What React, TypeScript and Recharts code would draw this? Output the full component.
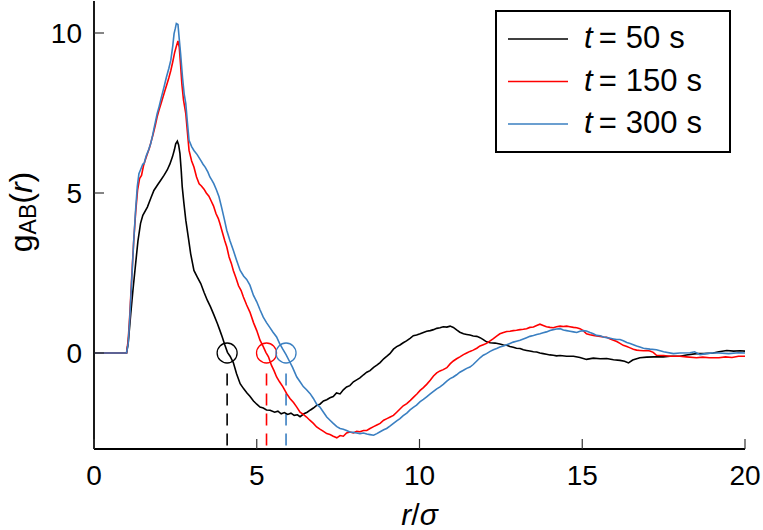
import React from 'react';
import { LineChart, Line, XAxis, YAxis, ReferenceLine, ReferenceDot, Legend } from 'recharts';

const xTicks = [0, 5, 10, 15, 20];
const yTicks = [0, 5, 10];

const series50: [number, number][] = [
  [0, 0], [0.5, 0], [1.0, 0], [1.05, 0.3], [1.13, 1.24], [1.2, 2.0], [1.28, 2.8], [1.35, 3.5], [1.43, 4.05], [1.5, 4.3],
  [1.64, 4.56], [1.75, 4.85], [1.84, 5.08], [1.95, 5.25], [2.05, 5.4], [2.15, 5.55], [2.25, 5.72], [2.33, 5.9], [2.41, 6.13],
  [2.47, 6.35], [2.51, 6.54], [2.56, 6.62], [2.6, 6.5], [2.64, 6.24], [2.68, 5.7], [2.71, 5.2], [2.76, 4.7], [2.82, 4.15],
  [2.9, 3.6], [2.97, 3.1], [3.07, 2.58], [3.17, 2.38], [3.28, 2.17], [3.38, 1.9], [3.48, 1.65], [3.58, 1.44], [3.68, 1.2],
  [3.79, 0.92], [3.87, 0.7], [3.94, 0.5], [4.02, 0.25], [4.1, 0.02], [4.18, -0.1], [4.28, -0.3], [4.38, -0.65], [4.49, -0.96],
  [4.6, -1.12], [4.7, -1.25], [4.79, -1.35], [4.9, -1.5], [5.0, -1.6], [5.1, -1.69], [5.2, -1.72], [5.3, -1.78], [5.41, -1.79],
  [5.55, -1.85], [5.65, -1.82], [5.75, -1.9], [5.85, -1.86], [5.95, -1.92], [6.05, -1.88], [6.15, -1.95], [6.25, -1.93],
  [6.33, -1.99], [6.45, -1.9], [6.55, -1.85], [6.65, -1.78], [6.74, -1.72], [6.84, -1.64], [6.94, -1.6], [7.05, -1.5],
  [7.15, -1.46], [7.25, -1.4], [7.35, -1.36], [7.45, -1.25], [7.56, -1.28], [7.66, -1.15], [7.76, -1.06], [7.86, -1.02],
  [7.97, -0.9], [8.07, -0.84], [8.17, -0.78], [8.28, -0.68], [8.38, -0.6], [8.48, -0.55], [8.59, -0.45], [8.69, -0.38],
  [8.79, -0.3], [8.9, -0.18], [9.0, -0.1], [9.09, -0.02], [9.2, 0.12], [9.3, 0.2], [9.4, 0.25], [9.5, 0.32], [9.6, 0.38],
  [9.71, 0.46], [9.81, 0.54], [9.91, 0.56], [10.02, 0.6], [10.12, 0.64], [10.22, 0.68], [10.33, 0.7], [10.43, 0.73],
  [10.53, 0.77], [10.63, 0.79], [10.73, 0.82], [10.84, 0.81], [10.94, 0.84], [11.04, 0.8], [11.14, 0.72], [11.24, 0.65],
  [11.35, 0.6], [11.45, 0.58], [11.55, 0.56], [11.65, 0.53], [11.76, 0.52], [11.86, 0.48], [11.96, 0.42], [12.06, 0.35],
  [12.17, 0.32], [12.32, 0.31], [12.47, 0.28], [12.58, 0.25], [12.68, 0.24], [12.78, 0.2], [12.88, 0.18], [12.98, 0.15],
  [13.09, 0.14], [13.19, 0.1], [13.29, 0.08], [13.39, 0.06], [13.5, 0.04], [13.6, 0.03], [13.7, 0.0], [13.8, -0.02],
  [13.9, -0.04], [14.01, -0.06], [14.11, -0.07], [14.21, -0.09], [14.32, -0.08], [14.52, -0.1], [14.73, -0.1], [14.93, -0.14],
  [15.13, -0.2], [15.34, -0.16], [15.55, -0.18], [15.75, -0.17], [15.96, -0.21], [16.16, -0.23], [16.3, -0.26], [16.42, -0.31],
  [16.55, -0.22], [16.77, -0.15], [16.98, -0.13], [17.2, -0.12], [17.49, -0.12], [17.7, -0.1], [18.0, -0.1], [18.2, -0.06],
  [18.51, -0.02], [18.73, -0.02], [19.02, 0.0], [19.2, 0.04], [19.44, 0.08], [19.65, 0.06], [19.85, 0.07], [20, 0.06],
];

const series150: [number, number][] = [
  [0, 0], [0.5, 0], [1.0, 0], [1.05, 0.4], [1.1, 1.2], [1.16, 2.4], [1.22, 3.5], [1.28, 4.4], [1.34, 5.1], [1.4, 5.45],
  [1.46, 5.55], [1.52, 5.85], [1.58, 6.05], [1.64, 6.23], [1.7, 6.4], [1.76, 6.62], [1.82, 6.85], [1.88, 7.1], [1.94, 7.38],
  [2.0, 7.6], [2.06, 7.8], [2.12, 8.0], [2.18, 8.2], [2.24, 8.4], [2.3, 8.6], [2.36, 8.83], [2.42, 9.1], [2.48, 9.4],
  [2.54, 9.62], [2.58, 9.75], [2.62, 9.55], [2.66, 9.0], [2.7, 8.4], [2.75, 7.9], [2.82, 7.48], [2.87, 6.9], [2.92, 6.33],
  [3.0, 6.0], [3.07, 5.81], [3.15, 5.5], [3.23, 5.29], [3.3, 5.22], [3.38, 5.12], [3.45, 5.0], [3.53, 4.9], [3.6, 4.75],
  [3.67, 4.6], [3.75, 4.35], [3.82, 4.2], [3.87, 4.04], [3.95, 3.75], [4.02, 3.5], [4.08, 3.31], [4.15, 3.0], [4.22, 2.8],
  [4.28, 2.58], [4.36, 2.35], [4.44, 2.1], [4.52, 1.95], [4.59, 1.75], [4.69, 1.5], [4.79, 1.28], [4.9, 0.95], [5.0, 0.7],
  [5.1, 0.4], [5.2, 0.2], [5.28, 0.02], [5.36, -0.12], [5.45, -0.38], [5.53, -0.55], [5.61, -0.75], [5.7, -0.9], [5.8, -1.05],
  [5.92, -1.27], [6.02, -1.42], [6.13, -1.55], [6.23, -1.69], [6.33, -1.85], [6.43, -1.92], [6.53, -2.0], [6.63, -2.1],
  [6.74, -2.2], [6.84, -2.31], [6.94, -2.38], [7.05, -2.45], [7.15, -2.52], [7.25, -2.55], [7.35, -2.6], [7.46, -2.65],
  [7.56, -2.58], [7.66, -2.6], [7.76, -2.5], [7.86, -2.47], [7.97, -2.5], [8.07, -2.45], [8.17, -2.46], [8.28, -2.42],
  [8.38, -2.42], [8.48, -2.36], [8.59, -2.3], [8.69, -2.25], [8.79, -2.2], [8.9, -2.1], [9.0, -2.05], [9.1, -2.0],
  [9.2, -1.95], [9.3, -1.85], [9.4, -1.75], [9.5, -1.65], [9.61, -1.58], [9.72, -1.48], [9.82, -1.38], [9.92, -1.28],
  [10.02, -1.17], [10.12, -1.08], [10.22, -0.98], [10.33, -0.85], [10.43, -0.72], [10.53, -0.62], [10.63, -0.56],
  [10.73, -0.52], [10.84, -0.46], [10.94, -0.34], [11.04, -0.25], [11.14, -0.18], [11.24, -0.12], [11.35, -0.05],
  [11.45, 0.0], [11.55, 0.05], [11.65, 0.09], [11.76, 0.15], [11.86, 0.22], [11.96, 0.26], [12.06, 0.3], [12.17, 0.38],
  [12.27, 0.45], [12.37, 0.53], [12.47, 0.6], [12.58, 0.64], [12.68, 0.67], [12.78, 0.68], [12.88, 0.7], [12.98, 0.71],
  [13.09, 0.73], [13.19, 0.74], [13.29, 0.76], [13.39, 0.8], [13.5, 0.81], [13.6, 0.86], [13.7, 0.9], [13.8, 0.86],
  [13.9, 0.82], [14.01, 0.8], [14.11, 0.79], [14.21, 0.82], [14.32, 0.84], [14.42, 0.83], [14.52, 0.84], [14.62, 0.82],
  [14.73, 0.8], [14.83, 0.79], [14.93, 0.76], [15.03, 0.7], [15.13, 0.6], [15.24, 0.57], [15.34, 0.55], [15.44, 0.53],
  [15.55, 0.52], [15.65, 0.5], [15.75, 0.49], [15.86, 0.44], [15.96, 0.4], [16.06, 0.36], [16.16, 0.3], [16.26, 0.24],
  [16.37, 0.2], [16.47, 0.16], [16.57, 0.12], [16.67, 0.09], [16.77, 0.08], [16.88, 0.07], [16.98, 0.08], [17.08, 0.06],
  [17.18, 0.02], [17.28, -0.07], [17.5, -0.08], [17.7, -0.1], [18.0, -0.1], [18.2, -0.12], [18.51, -0.15], [18.7, -0.13],
  [18.9, -0.15], [19.2, -0.15], [19.4, -0.12], [19.6, -0.14], [19.8, -0.1], [20, -0.1],
];

const series300: [number, number][] = [
  [0, 0], [0.5, 0], [1.0, 0], [1.05, 0.3], [1.1, 1.1], [1.16, 2.3], [1.22, 3.5], [1.28, 4.5], [1.33, 5.2], [1.38, 5.6],
  [1.44, 5.75], [1.5, 5.9], [1.54, 5.92], [1.6, 6.15], [1.66, 6.3], [1.74, 6.54], [1.8, 6.8], [1.86, 7.1], [1.94, 7.48],
  [2.0, 7.7], [2.06, 7.95], [2.15, 8.31], [2.22, 8.6], [2.3, 8.9], [2.36, 9.15], [2.42, 9.6], [2.46, 9.98], [2.5, 10.15],
  [2.53, 10.3], [2.58, 10.27], [2.62, 9.8], [2.66, 9.36], [2.72, 8.6], [2.77, 8.1], [2.82, 7.79], [2.87, 7.2], [2.92, 6.65],
  [3.0, 6.45], [3.07, 6.33], [3.17, 6.2], [3.28, 6.02], [3.35, 5.9], [3.42, 5.8], [3.5, 5.65], [3.56, 5.5], [3.62, 5.4],
  [3.68, 5.29], [3.76, 5.1], [3.84, 4.88], [3.92, 4.55], [4.0, 4.2], [4.08, 3.83], [4.18, 3.5], [4.28, 3.21], [4.38, 2.9],
  [4.49, 2.58], [4.6, 2.4], [4.69, 2.3], [4.79, 2.12], [4.9, 1.8], [5.0, 1.6], [5.1, 1.35], [5.2, 1.12], [5.3, 0.95],
  [5.4, 0.8], [5.5, 0.65], [5.61, 0.5], [5.7, 0.3], [5.8, 0.12], [5.9, -0.05], [6.0, -0.25], [6.1, -0.45], [6.23, -0.75],
  [6.33, -0.9], [6.43, -1.05], [6.53, -1.15], [6.64, -1.27], [6.74, -1.42], [6.84, -1.6], [6.94, -1.69], [7.05, -1.85],
  [7.15, -2.0], [7.25, -2.1], [7.35, -2.2], [7.46, -2.3], [7.56, -2.36], [7.66, -2.38], [7.76, -2.42], [7.86, -2.47],
  [7.97, -2.48], [8.07, -2.5], [8.17, -2.52], [8.28, -2.5], [8.38, -2.53], [8.48, -2.55], [8.59, -2.57], [8.69, -2.52],
  [8.79, -2.46], [8.9, -2.4], [8.99, -2.36], [9.1, -2.28], [9.2, -2.2], [9.3, -2.12], [9.4, -2.05], [9.5, -1.96],
  [9.61, -1.88], [9.71, -1.78], [9.81, -1.7], [9.91, -1.63], [10.02, -1.52], [10.12, -1.45], [10.22, -1.37], [10.33, -1.28],
  [10.43, -1.2], [10.53, -1.12], [10.63, -1.06], [10.73, -0.98], [10.84, -0.88], [10.94, -0.8], [11.04, -0.75],
  [11.14, -0.68], [11.24, -0.6], [11.35, -0.54], [11.45, -0.48], [11.55, -0.44], [11.65, -0.36], [11.76, -0.25],
  [11.86, -0.15], [11.96, -0.07], [12.06, -0.02], [12.17, 0.05], [12.27, 0.1], [12.37, 0.14], [12.47, 0.19], [12.58, 0.22],
  [12.68, 0.26], [12.78, 0.3], [12.88, 0.34], [12.98, 0.37], [13.09, 0.4], [13.19, 0.44], [13.29, 0.48], [13.39, 0.52],
  [13.5, 0.55], [13.6, 0.58], [13.7, 0.6], [13.8, 0.63], [13.9, 0.66], [14.01, 0.7], [14.11, 0.73], [14.21, 0.75],
  [14.32, 0.76], [14.42, 0.72], [14.52, 0.7], [14.62, 0.68], [14.73, 0.66], [14.83, 0.64], [14.93, 0.68], [15.03, 0.7],
  [15.13, 0.69], [15.24, 0.64], [15.34, 0.6], [15.44, 0.55], [15.55, 0.54], [15.65, 0.5], [15.75, 0.48], [15.86, 0.46],
  [15.96, 0.44], [16.06, 0.42], [16.16, 0.42], [16.26, 0.38], [16.37, 0.33], [16.47, 0.3], [16.57, 0.26], [16.67, 0.22],
  [16.77, 0.19], [16.88, 0.15], [17.08, 0.12], [17.28, 0.1], [17.5, 0.04], [17.8, -0.02], [18.0, 0.0], [18.31, 0.01],
  [18.45, 0.04], [18.62, -0.05], [18.8, -0.02], [19.0, 0.0], [19.2, 0.0], [19.5, -0.02], [19.8, 0.01], [20, 0.0],
];

const seriesNames = ['50', '150', '300'];
const seriesColors = ['#000000', '#ff0000', '#3a7fc1'];
const crossings = [4.09, 5.3, 5.9];

const toRows = (s: [number, number][]) => s.map(([r, v]) => ({ r, v }));
const allSeries = [series50, series150, series300].map(toRows);

const FONT = "'Liberation Sans', Arial, Helvetica, sans-serif";

const BottomTick = (props: any) => {
  const { x, y, payload } = props;
  return (
    <g>
      <line x1={x} y1={y} x2={x} y2={y - 10} stroke="#333" strokeWidth={1.2} />
      <text x={x} y={y + 36} textAnchor="middle" fontSize={28} fontFamily={FONT} fill="#000">
        {payload.value}
      </text>
    </g>
  );
};

const LeftTick = (props: any) => {
  const { x, y, payload } = props;
  return (
    <g>
      <line x1={x} y1={y} x2={x + 10} y2={y} stroke="#333" strokeWidth={1.2} />
      <text x={x - 12} y={y + 10} textAnchor="end" fontSize={28} fontFamily={FONT} fill="#000">
        {payload.value}
      </text>
    </g>
  );
};

const TopTick = (props: any) => {
  const { x, y } = props;
  return <line x1={x} y1={y} x2={x} y2={y + 10} stroke="#333" strokeWidth={1.2} />;
};

const RightTick = (props: any) => {
  const { x, y } = props;
  return <line x1={x} y1={y} x2={x - 10} y2={y} stroke="#333" strokeWidth={1.2} />;
};

const LegendBox = () => (
  <div
    style={{
      width: 236,
      height: 143,
      border: '2px solid #000',
      boxSizing: 'border-box',
      background: '#fff',
    }}
  >
    <svg width={232} height={139} style={{ display: 'block' }}>
      {seriesNames.map((n, i) => {
        const ly = 27 + i * 42.5;
        return (
          <g key={n}>
            <line x1={11} y1={ly} x2={71} y2={ly} stroke={seriesColors[i]} strokeWidth={1.6} />
            <text x={87} y={ly + 9} fontSize={31} fontFamily={FONT} fill="#000">
              <tspan fontStyle="italic">t</tspan>
              <tspan dx={6}>=</tspan>
              <tspan dx={9}>{n}</tspan>
              <tspan dx={9}>s</tspan>
            </text>
          </g>
        );
      })}
    </svg>
  </div>
);

const XLabel = (props: any) => {
  const vb = props.viewBox || { x: 94, y: 449, width: 651, height: 81 };
  return (
    <text x={vb.x + vb.width / 2} y={525} textAnchor="middle" fontSize={30} fontFamily={FONT} fill="#000">
      <tspan fontStyle="italic">r</tspan>
      <tspan>/</tspan>
      <tspan fontStyle="italic">σ</tspan>
    </text>
  );
};

const YLabel = () => (
  <text
    x={0}
    y={0}
    transform="translate(32, 212) rotate(-90)"
    textAnchor="middle"
    fontSize={32}
    fontFamily={FONT}
    fill="#000"
  >
    <tspan>g</tspan>
    <tspan fontSize={23} dy={4}>AB</tspan>
    <tspan dy={-4}>(</tspan>
    <tspan fontStyle="italic">r</tspan>
    <tspan>)</tspan>
  </text>
);

export default function App() {
  return (
    <div style={{ position: 'absolute', left: 0, top: 0, width: 763, height: 530, background: '#fff' }}>
      <LineChart width={763} height={530} margin={{ top: 1, right: 18, bottom: 0, left: 0 }}>
        <XAxis
          xAxisId="b"
          dataKey="r"
          type="number"
          domain={[0, 20]}
          ticks={xTicks}
          allowDuplicatedCategory={false}
          height={81}
          tickSize={0}
          tickMargin={0}
          tickLine={false}
          axisLine={{ stroke: '#000', strokeWidth: 1.8 }}
          tick={<BottomTick />}
          label={<XLabel />}
        />
        <XAxis
          xAxisId="t"
          orientation="top"
          dataKey="r"
          type="number"
          domain={[0, 20]}
          ticks={xTicks}
          allowDuplicatedCategory={false}
          height={0}
          tickSize={0}
          tickMargin={0}
          tickLine={false}
          axisLine={{ stroke: '#000', strokeWidth: 1.8 }}
          tick={<TopTick />}
        />
        <YAxis
          yAxisId="l"
          type="number"
          domain={[-3, 11]}
          ticks={yTicks}
          width={94}
          tickSize={0}
          tickMargin={0}
          tickLine={false}
          axisLine={{ stroke: '#000', strokeWidth: 1.8 }}
          tick={<LeftTick />}
          label={<YLabel />}
        />
        <YAxis
          yAxisId="rt"
          orientation="right"
          type="number"
          domain={[-3, 11]}
          ticks={yTicks}
          width={0}
          tickSize={0}
          tickMargin={0}
          tickLine={false}
          axisLine={{ stroke: '#000', strokeWidth: 1.6 }}
          tick={<RightTick />}
        />
        {crossings.map((c, i) => (
          <ReferenceLine
            key={'d' + i}
            xAxisId="b"
            yAxisId="l"
            segment={[{ x: c, y: -0.64 }, { x: c, y: -3 }]}
            stroke={seriesColors[i]}
            strokeWidth={1.6}
            strokeDasharray="12 8"
          />
        ))}
        {allSeries.map((d, i) => (
          <Line
            key={seriesNames[i]}
            xAxisId="b"
            yAxisId="l"
            data={d}
            dataKey="v"
            type="linear"
            stroke={seriesColors[i]}
            strokeWidth={1.6}
            dot={false}
            activeDot={false}
            isAnimationActive={false}
            name={seriesNames[i]}
          />
        ))}
        {crossings.map((c, i) => (
          <ReferenceDot
            key={'c' + i}
            xAxisId="b"
            yAxisId="l"
            x={c}
            y={0}
            r={10}
            fill="none"
            stroke={seriesColors[i]}
            strokeWidth={1.3}
          />
        ))}
        <Legend
          layout="vertical"
          align="center"
          verticalAlign="middle"
          content={<LegendBox />}
          wrapperStyle={{ position: 'absolute', left: 495, top: 10, width: 236, height: 143 }}
        />
      </LineChart>
    </div>
  );
}
